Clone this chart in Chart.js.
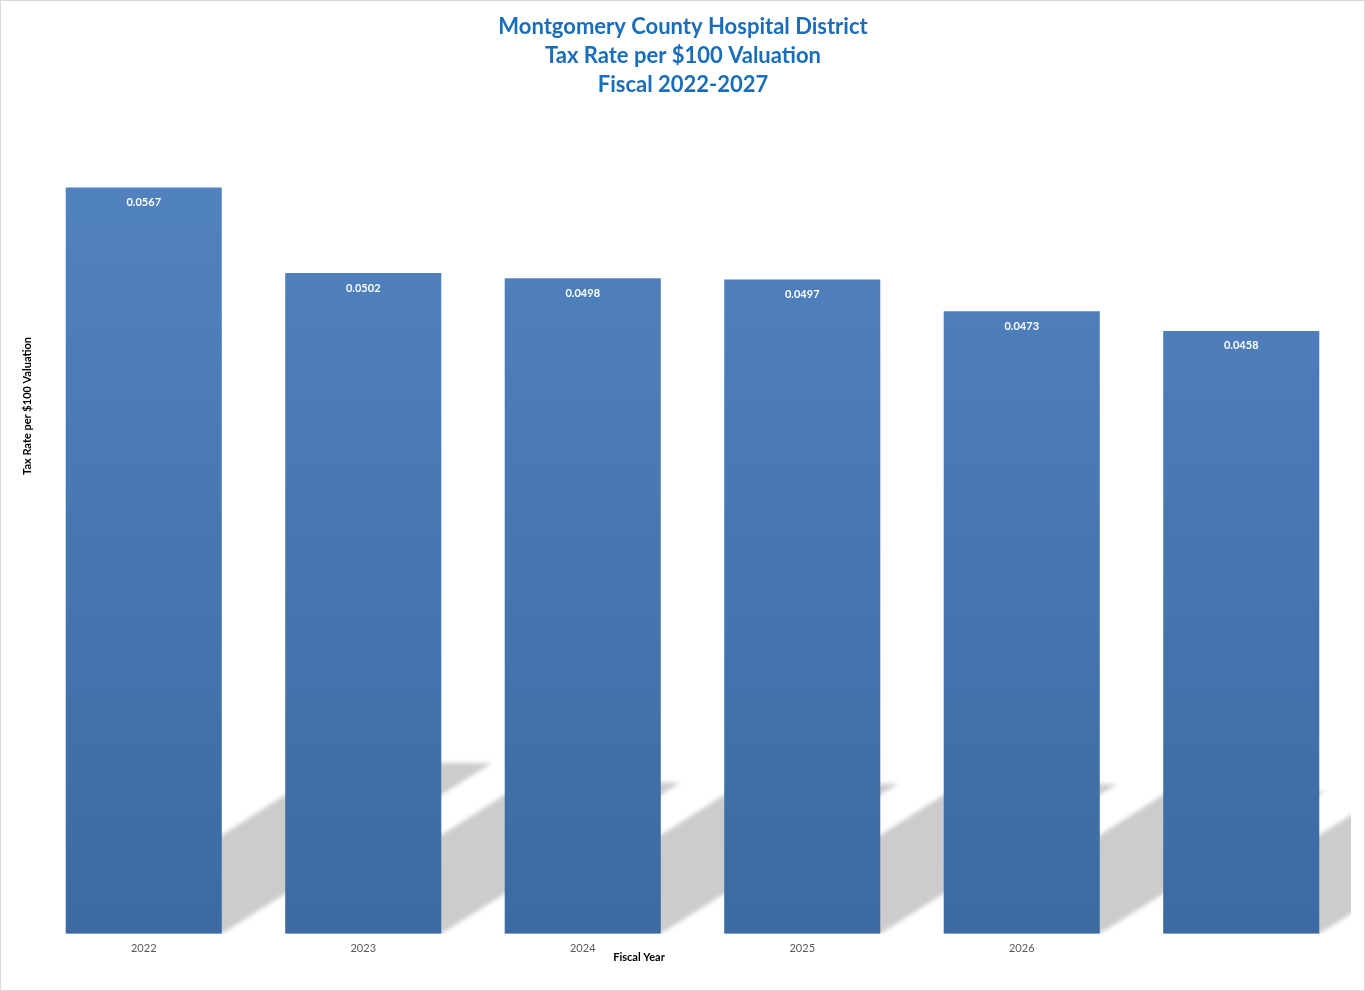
<!DOCTYPE html>
<html>
<head>
<meta charset="utf-8">
<title>Tax Rate per $100 Valuation</title>
<script src="https://cdn.jsdelivr.net/npm/chart.js@4.4.0/dist/chart.umd.min.js"></script>
<style>
  html, body { margin: 0; padding: 0; background: #fff; }
  #wrap { position: relative; width: 1363px; height: 989px; border: 1px solid #d9d9d9; }
</style>
</head>
<body>
<div id="wrap"><canvas id="myChart"></canvas></div>
<script>
// data
var years = ['2022', '2023', '2024', '2025', '2026', ''];
var rates = [0.0567, 0.0502, 0.0498, 0.0497, 0.0473, 0.0458];
var titleLines = ['Montgomery County Hospital District', 'Tax Rate per $100 Valuation', 'Fiscal 2022-2027'];
var yTitle = 'Tax Rate per $100 Valuation';
var xTitle = 'Fiscal Year';

var FONT = 'Lato, "Open Sans", sans-serif';

// floor shadow cast to the upper right of every bar
var shadowPlugin = {
  id: 'floorShadow',
  beforeDatasetsDraw: function(chart) {
    var ctx = chart.ctx;
    var area = chart.chartArea;
    var bars = chart.getDatasetMeta(0).data;
    ctx.save();
    ctx.beginPath();
    ctx.rect(area.left, area.top, area.right - area.left, area.bottom - area.top);
    ctx.clip();
    ctx.fillStyle = '#cccccc';
    ctx.filter = 'blur(2px)';
    bars.forEach(function(b) {
      var h = b.base - b.y;
      var dy = h * 0.229;
      var dx = dy * 1.58;
      var l = b.x - b.width / 2, r = b.x + b.width / 2;
      ctx.beginPath();
      ctx.moveTo(l, b.base);
      ctx.lineTo(r, b.base);
      ctx.lineTo(r + dx, b.base - dy);
      ctx.lineTo(l + dx, b.base - dy);
      ctx.closePath();
      ctx.fill();
    });
    ctx.restore();
  }
};

// title, value labels inside the bar tops, and the two axis titles
var labelPlugin = {
  id: 'valueLabels',
  afterDatasetsDraw: function(chart) {
    var ctx = chart.ctx;
    var bars = chart.getDatasetMeta(0).data;
    ctx.save();
    ctx.textAlign = 'center';
    ctx.textBaseline = 'middle';

    ctx.fillStyle = '#1a6dbb';
    ctx.font = 'bold 22px ' + FONT;
    titleLines.forEach(function(t, i) {
      ctx.fillText(t, 682, 26 + i * 29);
    });

    ctx.fillStyle = '#ffffff';
    ctx.font = 'bold 11px ' + FONT;
    bars.forEach(function(b, i) {
      ctx.fillText(rates[i].toFixed(4), b.x, b.y + 15);
    });

    ctx.fillStyle = '#000000';
    ctx.font = 'bold 11px ' + FONT;
    ctx.fillText(xTitle, 638, 956);

    ctx.translate(26, 405);
    ctx.rotate(-Math.PI / 2);
    ctx.fillText(yTitle, 0, 0);
    ctx.restore();
  }
};

var ctx = document.getElementById('myChart').getContext('2d');
var myChart = new Chart(ctx, {
  type: 'bar',
  data: {
    labels: years,
    datasets: [{
      label: 'Tax Rate',
      data: rates,
      backgroundColor: function(c) {
        var area = c.chart.chartArea;
        if (!area) return '#4a7ab4';
        var g = c.chart.ctx.createLinearGradient(0, area.top, 0, area.bottom);
        g.addColorStop(0, '#5284c1');
        g.addColorStop(1, '#3c6aa2');
        return g;
      },
      borderWidth: 0,
      barPercentage: 0.711,
      categoryPercentage: 1.0
    }]
  },
  plugins: [shadowPlugin, labelPlugin],
  options: {
    responsive: true,
    maintainAspectRatio: false,
    animation: false,
    layout: { padding: { left: 33, right: 13, top: 143, bottom: 27 } },
    plugins: {
      legend: { display: false },
      tooltip: { enabled: false },
      title: { display: false }
    },
    scales: {
      x: {
        grid: { display: false, drawTicks: false },
        border: { display: false },
        ticks: { color: '#595959', font: { family: FONT, size: 11 }, padding: 8, maxRotation: 0 }
      },
      y: {
        display: false,
        min: 0,
        max: 0.06
      }
    }
  }
});
</script>
</body>
</html>
